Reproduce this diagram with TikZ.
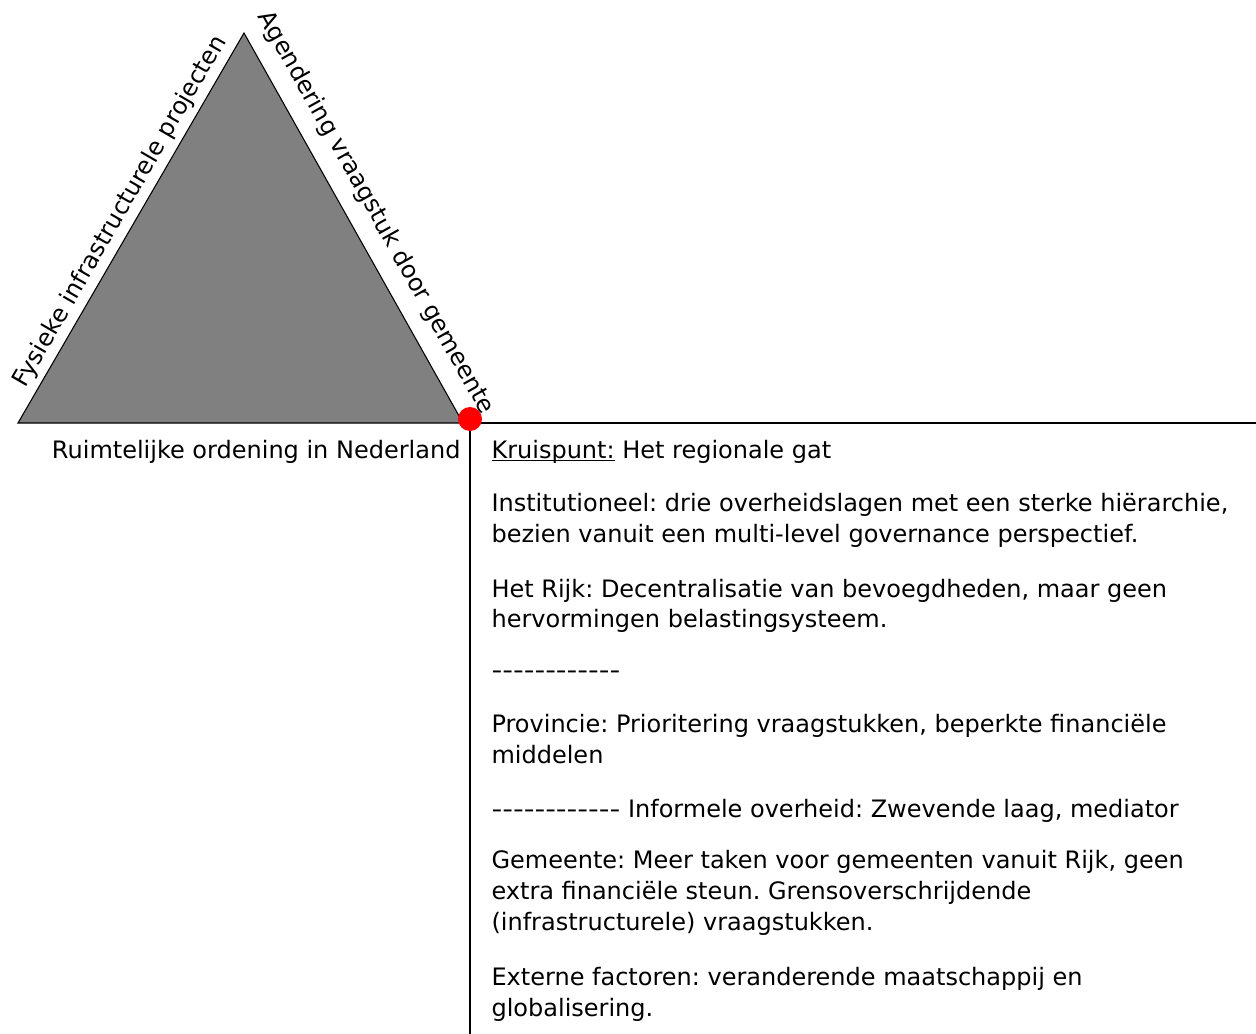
\documentclass[tikz,border=0pt]{standalone}
\usepackage{fontspec}
\setmainfont{DejaVu Sans}[Ligatures=TeXOff]
\usepackage{graphicx}
\usepackage{tikz}
\frenchspacing
\tikzset{
    every node/.style={inner sep=0pt, font=\fontsize{18}{23.25}\selectfont}
}
\tikzset{
    dot/.style={circle, fill=red, minimum size=18pt}
}
\tikzset{
    txt/.style={anchor=base west}
}
\newcommand{\underl}[1]{\setbox0\hbox{#1}\rlap{\rule[-2.4pt]{\wd0}{0.8pt}}\box0\relax}
\newcommand{\dashrow}{\scalebox{1.24}[1]{------------}}

\begin{document}
\begin{tikzpicture}[x=0.75pt, y=-0.75pt, line width=0.8pt]
	\useasboundingbox (0,0) rectangle (1256,1034);
	\coordinate (1) at (18,423);
	\coordinate (2) at (244,33);
	\coordinate (3) at (463,423);
	\coordinate (4) at (470,423);
	\coordinate (5) at (1256,423);
	\coordinate (6) at (470,1034);

	\draw [fill=gray] (1) -- (2) -- (3) -- cycle;
	\path (1) -- (2) node [pos=0.52, sloped, above=4pt] {Fysieke infrastructurele projecten};
	\path (2) -- (3) node [pos=0.495, sloped, above=11pt] {Agendering vraagstuk door gemeente};
	\node (7) [anchor=base east] at (461,458) {Ruimtelijke ordening in Nederland};

	\draw (4) edge (5); \draw (4) edge (6);
	\node (8) [dot] at (470,419) {};

	\node (9) [txt] at (491,458) {\underl{Kruispunt:} Het regionale gat};
	\node (10) [txt] at (491,511) {Institutioneel: drie overheidslagen met een sterke hiërarchie,};
	\node (11) [txt] at (491,542) {bezien vanuit een multi-level governance perspectief.};
	\node (12) [txt] at (491,597) {Het Rijk: Decentralisatie van bevoegdheden, maar geen};
	\node (13) [txt] at (491,627) {hervormingen belastingsysteem.};
	\node (14) [txt] at (491,678) {\dashrow};
	\node (15) [txt] at (491,732) {Provincie: Prioritering vraagstukken, beperkte financiële};
	\node (16) [txt] at (491,763) {middelen};
	\node (17) [txt] at (491,817) {\dashrow{} Informele overheid: Zwevende laag, mediator};
	\node (18) [txt] at (491,868) {Gemeente: Meer taken voor gemeenten vanuit Rijk, geen};
	\node (19) [txt] at (491,899) {extra financiële steun. Grensoverschrijdende};
	\node (20) [txt] at (491,930) {(infrastructurele) vraagstukken.};
	\node (21) [txt] at (491,985) {Externe factoren: veranderende maatschappij en};
	\node (22) [txt] at (491,1016) {globalisering.};
\end{tikzpicture}
\end{document}
